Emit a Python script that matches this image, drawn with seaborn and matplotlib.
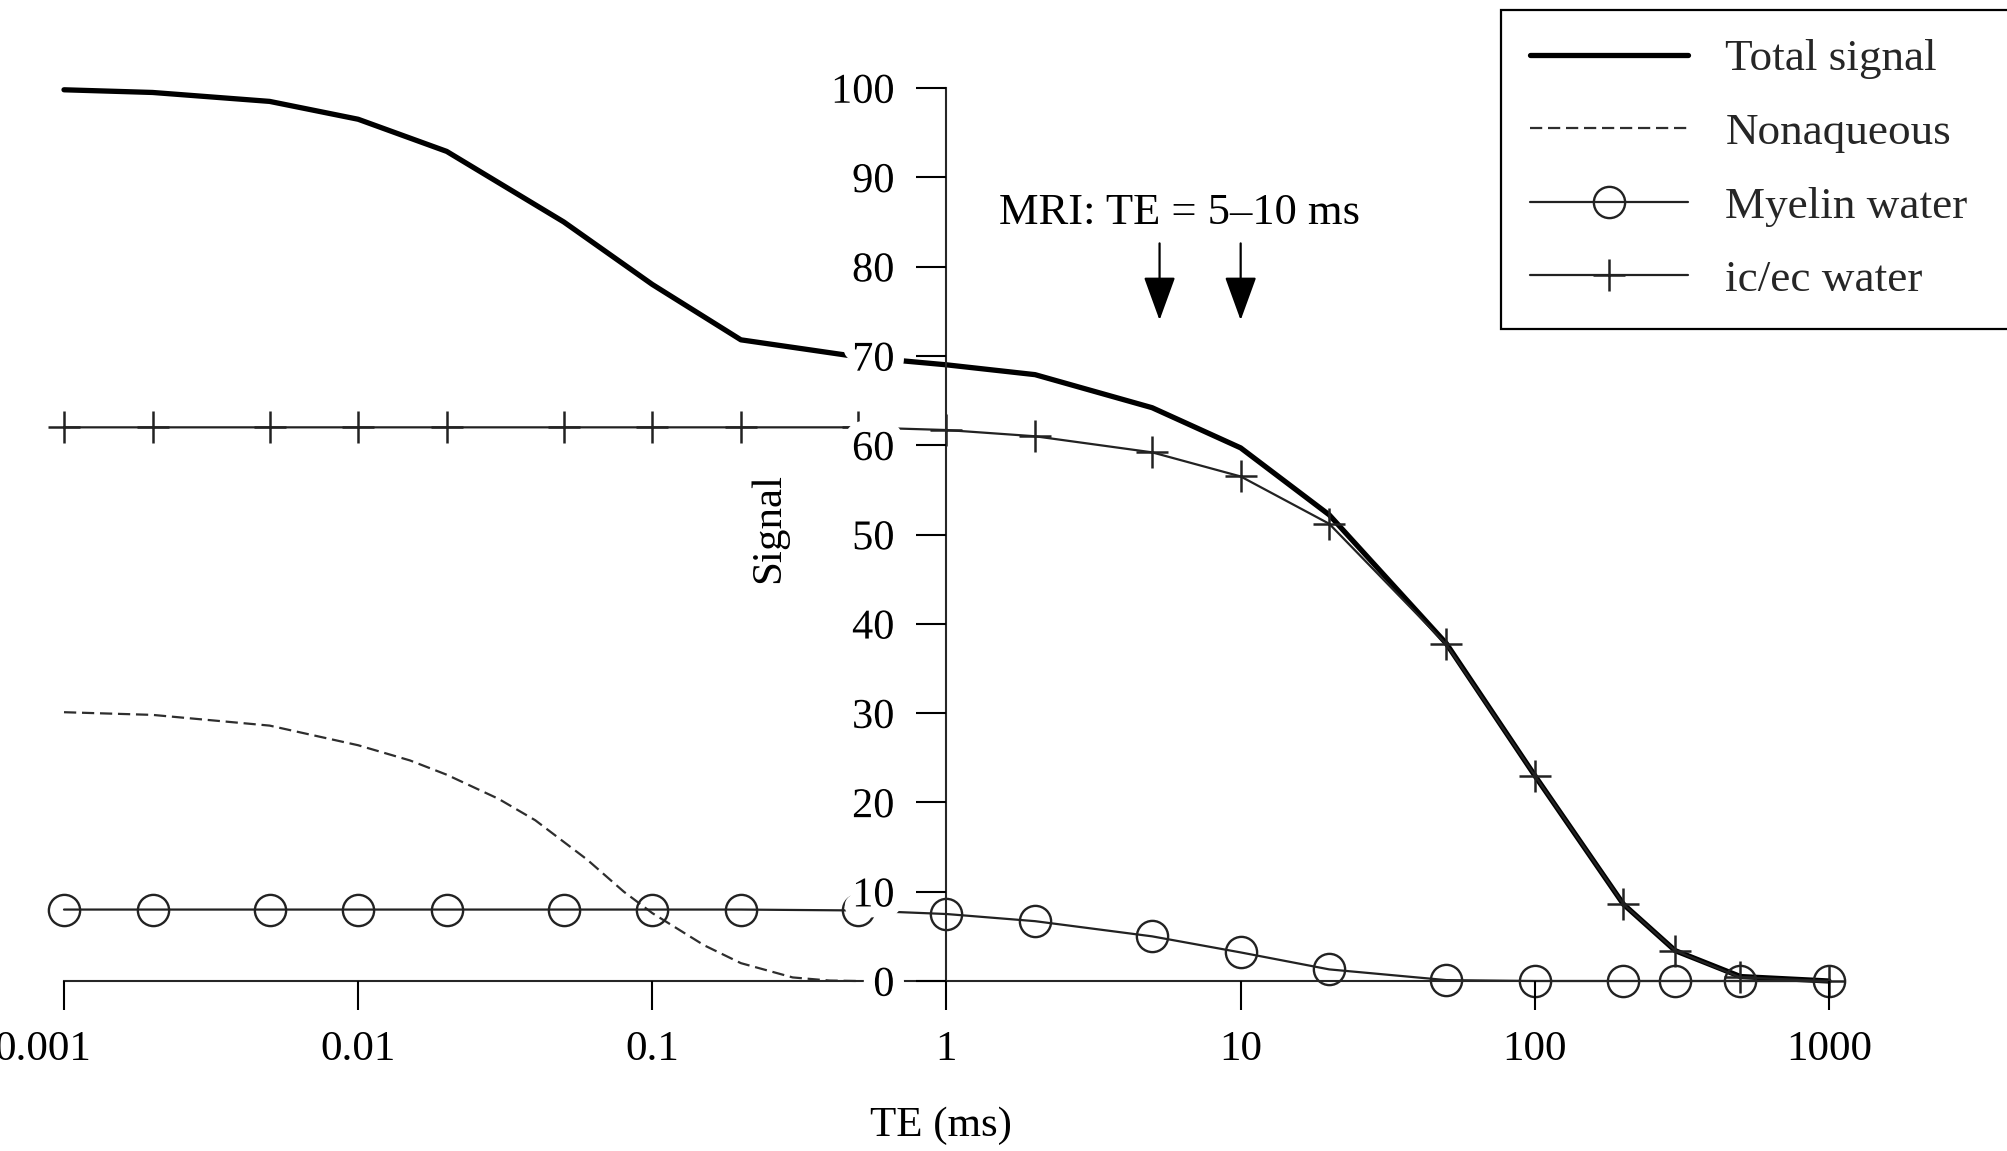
import matplotlib
matplotlib.use('Agg')
import matplotlib.pyplot as plt
import matplotlib.transforms as mtransforms
import matplotlib.patheffects as pe
from matplotlib.ticker import NullLocator
import seaborn as sns

# TE sampling (ms)
te = [0.001, 0.002, 0.005, 0.01, 0.02, 0.05, 0.1, 0.2, 0.5,
      1, 2, 5, 10, 20, 50, 100, 200, 300, 500, 1000]

# signals
total_signal = [99.8, 99.5, 98.5, 96.5, 92.9, 85.0, 78.0, 71.8, 69.9,
                69.0, 67.9, 64.2, 59.7, 52.2, 37.8, 23.0, 8.6, 3.4, 0.5, 0.0]
myelin_water = [8.0, 8.0, 8.0, 8.0, 8.0, 8.0, 8.0, 8.0, 7.9,
                7.5, 6.7, 5.0, 3.2, 1.3, 0.1, 0.0, 0.0, 0.0, 0.0, 0.0]
icec_water = [62.0, 62.0, 62.0, 62.0, 62.0, 62.0, 62.0, 62.0, 62.0,
              61.7, 61.0, 59.2, 56.5, 51.2, 37.7, 23.0, 8.6, 3.4, 0.4, 0.0]

# nonaqueous component, finer sampling
te_nonaq = [0.001, 0.002, 0.005, 0.01, 0.015, 0.02, 0.03, 0.04, 0.06,
            0.08, 0.1, 0.15, 0.2, 0.3, 0.4, 0.5]
nonaqueous = [30.1, 29.8, 28.6, 26.4, 24.7, 23.1, 20.4, 18.0, 13.6,
              10.0, 7.6, 4.0, 2.0, 0.4, 0.05, 0.0]

x_ticks = [0.001, 0.01, 0.1, 1, 10, 100, 1000]
x_labels = ['0.001', '0.01', '0.1', '1', '10', '100', '1000']
y_ticks = [0, 10, 20, 30, 40, 50, 60, 70, 80, 90, 100]

sns.set_theme(style='ticks')
plt.rcParams['font.family'] = ['Liberation Serif', 'DejaVu Serif']
plt.rcParams['axes.linewidth'] = 1.5

W, H = 2008, 1151
fig = plt.figure(figsize=(W / 100, H / 100), dpi=100)
ax = fig.add_axes([64 / W, 1 - 981 / H, (1829 - 64) / W, (981 - 88) / H])
ax.set_xscale('log')

sns.lineplot(x=te, y=total_signal, ax=ax, color='black', lw=3.8,
             label='Total signal', errorbar=None, clip_on=False)
sns.lineplot(x=te_nonaq, y=nonaqueous, ax=ax, color='#2e2e2e', lw=1.6,
             ls=(0, (5.5, 2.6)), label='Nonaqueous', errorbar=None, clip_on=False)
sns.lineplot(x=te, y=myelin_water, ax=ax, color='#222222', lw=1.6,
             marker='o', ms=22.5, mfc='none', mec='#222222', mew=1.7,
             label='Myelin water', errorbar=None, clip_on=False)
sns.lineplot(x=te, y=icec_water, ax=ax, color='#222222', lw=1.6,
             marker='+', ms=23, mec='#222222', mew=1.8,
             label='ic/ec water', errorbar=None, clip_on=False)

ax.set_xlim(0.001, 1000)
ax.set_ylim(0, 100)

sns.despine(ax=ax)
ax.spines['left'].set_position(('data', 1))
ax.spines['left'].set_bounds(0, 100)
ax.spines['bottom'].set_bounds(0.001, 1000)
ax.set_axisbelow(False)

ax.set_xticks(x_ticks)
ax.set_xticklabels(x_labels)
ax.xaxis.set_minor_locator(NullLocator())
ax.set_yticks(y_ticks)
ax.tick_params(axis='x', direction='out', length=21, width=1.5, pad=15,
               labelsize=31, color='black', labelcolor='black')
ax.tick_params(axis='y', direction='out', length=21.5, width=1.5, pad=16,
               labelsize=30.5, color='black', labelcolor='black')
# white halo round the y labels hides the curves passing behind them
for t in ax.get_yticklabels():
    t.set_path_effects([pe.withStroke(linewidth=16, foreground='white')])

# first x label sits a bit left of its tick in the original
first = ax.get_xticklabels()[0]
first.set_transform(first.get_transform() +
                    mtransforms.ScaledTranslation(-0.21, 0, fig.dpi_scale_trans))

ax.set_xlabel('TE (ms)', fontsize=31, color='black')
ax.set_ylabel('Signal', fontsize=31, color='black')
ax.xaxis.set_label_coords(0.497, -0.14)
ax.yaxis.set_label_coords(0.41, 0.507)

ax.text(6.2, 84.8, 'MRI: TE = 5–10 ms', ha='center', va='baseline',
        fontsize=32, color='black')
for xa in [5.3, 10]:
    ax.annotate('', xy=(xa, 74.0), xytext=(xa, 82.6), annotation_clip=False,
                arrowprops=dict(arrowstyle='-|>,head_length=0.55,head_width=0.2',
                                mutation_scale=50, color='black', lw=1.6,
                                shrinkA=0, shrinkB=0))

leg = ax.legend(loc='upper left',
                bbox_to_anchor=(1501 / W, 1 - 10 / H - 0.3, 0.3, 0.3),
                bbox_transform=fig.transFigure, mode='expand',
                borderaxespad=0, fontsize=32.5, handlelength=3.5,
                handletextpad=0.83, borderpad=0.64, labelspacing=0.73,
                fancybox=False, framealpha=1, edgecolor='black')
leg.get_frame().set_linewidth(1.6)

fig.savefig('out.png', dpi=100)
